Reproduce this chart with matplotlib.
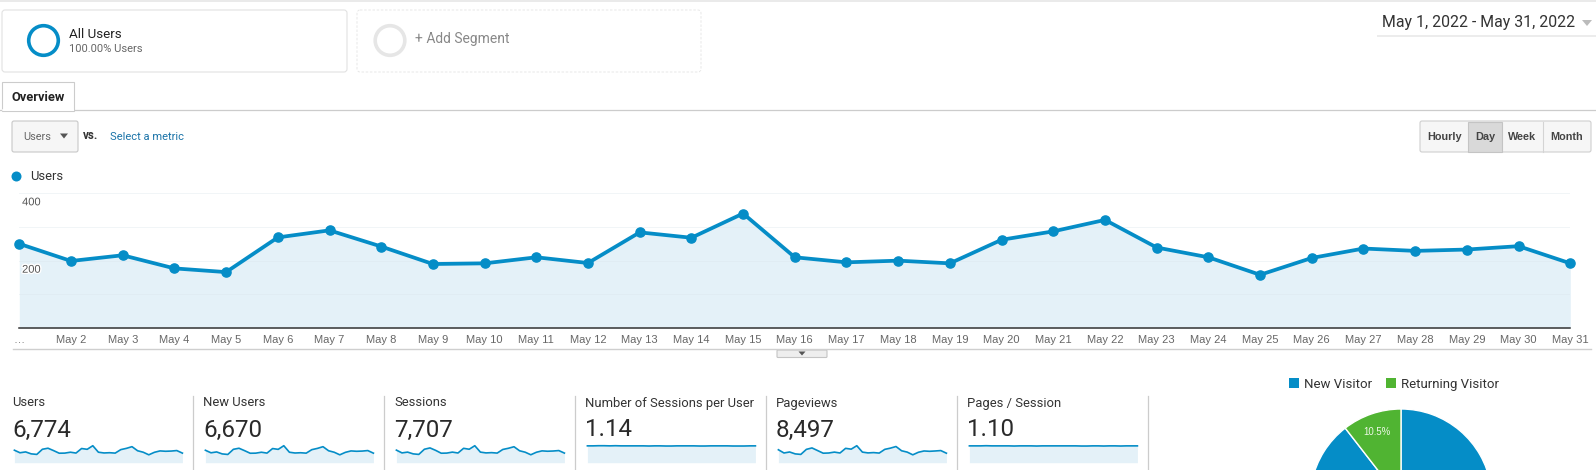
import matplotlib
matplotlib.use("Agg")
import matplotlib.pyplot as plt
import matplotlib.patheffects as pe
from matplotlib.patches import Circle, FancyBboxPatch, Polygon, Rectangle

W, H = 1596, 470
BLUE = "#058dc7"
GREEN = "#50b432"
FILL = "#e4f1f8"

days = ["…"] + ["May %d" % d for d in range(2, 32)]
users = [250, 199, 216, 177, 166, 269, 290, 242, 190, 192, 210, 193, 284, 268, 340,
         210, 195, 200, 192, 262, 287, 321, 239, 210, 158, 208, 236, 229, 233, 243, 192]
new_users = [246, 196, 213, 174, 163, 265, 286, 238, 187, 189, 207, 190, 280, 264, 336,
             207, 192, 197, 189, 258, 283, 317, 236, 207, 156, 205, 233, 226, 230, 240, 189]
sessions = [285, 222, 240, 200, 188, 305, 335, 280, 215, 218, 240, 220, 326, 305, 385,
            240, 222, 228, 218, 300, 327, 362, 270, 238, 180, 237, 268, 260, 265, 275, 218]
per_user = [1.14, 1.14, 1.15, 1.15, 1.14, 1.15, 1.14, 1.14, 1.14, 1.14, 1.14, 1.13, 1.14, 1.14, 1.13,
            1.13, 1.14, 1.14, 1.14, 1.14, 1.13, 1.13, 1.14, 1.14, 1.14, 1.14, 1.13, 1.13, 1.13, 1.14, 1.14]
pageviews = [320, 240, 265, 218, 205, 330, 365, 300, 235, 240, 262, 240, 355, 335, 420,
             262, 242, 250, 238, 330, 360, 400, 295, 262, 195, 258, 290, 282, 290, 300, 235]
per_session = [1.10, 1.10, 1.10, 1.11, 1.10, 1.10, 1.10, 1.10, 1.09, 1.10, 1.10, 1.10, 1.09, 1.10, 1.10,
               1.10, 1.10, 1.10, 1.10, 1.10, 1.09, 1.09, 1.10, 1.10, 1.09, 1.10, 1.10, 1.09, 1.10, 1.10, 1.10]

metric_names = ["Users", "New Users", "Sessions", "Number of Sessions per User", "Pageviews", "Pages / Session"]
metric_values = ["6,774", "6,670", "7,707", "1.14", "8,497", "1.10"]
metric_series = [users, new_users, sessions, per_user, pageviews, per_session]

visitor_names = ["New Visitor", "Returning Visitor"]
visitor_share = [89.5, 10.5]
visitor_labels = ["", "10.5%"]
y_ticks = [0, 100, 200, 300, 400]
y_labeled = [200, 400]
intervals = ["Hourly", "Day", "Week", "Month"]

plt.rcParams["font.family"] = ["Roboto", "DejaVu Sans"]
fig = plt.figure(figsize=(W / 100, H / 100), dpi=100, facecolor="white")


def px_axes(x0, y0, x1, y1):
    return fig.add_axes([x0 / W, 1 - y1 / H, (x1 - x0) / W, (y1 - y0) / H])


# page furniture, drawn in pixel coordinates
bg = fig.add_axes([0, 0, 1, 1])
bg.set_xlim(0, W)
bg.set_ylim(H, 0)
bg.axis("off")


def box(x0, y0, x1, y1, fc="white", ec="#e2e2e2", lw=0.8, ls="-", r=3):
    bg.add_patch(FancyBboxPatch((x0, y0), x1 - x0, y1 - y0, boxstyle="round,pad=0,rounding_size=%d" % r,
                                fc=fc, ec=ec, lw=lw, ls=ls))


def label(x, y, s, size, color="#333333", ha="left", **kw):
    bg.text(x, y, s, fontsize=size, color=color, ha=ha, va="center", **kw)


bg.plot([0, W], [0.5, 0.5], color="#e6e6e6", lw=1.2)

# segments
box(2, 10, 347, 72)
bg.add_patch(Circle((43.5, 40.5), 14.8, fc="none", ec=BLUE, lw=2.6))
label(69, 34.5, "All Users", 9.6, "#222222")
label(69, 48.5, "100.00% Users", 8, "#666666")
box(357, 10, 701, 72, ec="#e4e4e4", lw=0.6, ls=(0, (3, 2)))
bg.add_patch(Circle((390, 40.5), 14.8, fc="none", ec="#e6e6e6", lw=2.6))
label(415, 39, "+ Add Segment", 10, "#888888")

# date picker
label(1382, 23, "May 1, 2022 - May 31, 2022", 11.4, "#333333")
bg.plot([1378, W], [36, 36], color="#ececec", lw=1.4)
bg.add_patch(Polygon([(1582, 20), (1592, 20), (1587, 26)], fc="#bbbbbb", ec="none"))

# tab
bg.plot([0, W], [110, 110], color="#cccccc", lw=0.9)
bg.add_patch(Rectangle((2, 82), 72, 28.5, fc="white", ec="#cccccc", lw=0.8, zorder=3))
bg.plot([2.6, 73.4], [110, 110], color="white", lw=1.2, zorder=4)
label(11, 97.5, "Overview", 9.3, "#222222", fontweight="bold", zorder=5)

# metric selector
box(12, 121, 78, 152, fc="#f6f6f6", ec="#c8c8c8", r=2)
label(23, 136.5, "Users", 7.8, "#666666")
bg.add_patch(Polygon([(60, 133.5), (68, 133.5), (64, 138.5)], fc="#555555", ec="none"))
label(83, 135.5, "vs.", 8.4, "#333333", fontweight="bold")
label(110, 136.5, "Select a metric", 8, "#1a73a8")

# interval buttons
box(1420, 121, 1591, 152, fc="#f6f6f6", ec="#cfcfcf", r=2)
bg.add_patch(Rectangle((1468, 121.5), 34, 30, fc="#d9d9d9", ec="#c4c4c4", lw=0.8))
for x in [1543]:
    bg.plot([x, x], [121.5, 151.5], color="#d4d4d4", lw=0.8)
for x, name in zip([1444, 1485, 1522, 1567], intervals):
    label(x, 136.5, name, 7.8, "#444444", ha="center", fontweight="bold", family=["Liberation Sans"])

# legend of the main chart
bg.add_patch(Circle((16.5, 176.5), 5, fc=BLUE, ec="none"))
label(30, 177, "Users", 9.4, "#333333")

# main chart
ax = px_axes(19.3, 193.3, 1570.3, 328)
ax.set_facecolor("none")
x = list(range(len(users)))
ax.fill_between(x, users, 0, color=FILL, lw=0)
ax.plot(x, users, "-o", color=BLUE, lw=2.7, ms=6.6, clip_on=False, zorder=4)
ax.set_xlim(0, 30)
ax.set_ylim(0, 400)
ax.set_yticks(y_ticks)
ax.set_yticklabels([])
ax.grid(axis="y", color="#dbe6ec", alpha=0.4, lw=0.7)
ax.set_axisbelow(False)
ax.tick_params(length=0)
ax.set_xticks(x)
ax.set_xticklabels(days, fontsize=8, color="#666666", family=["Liberation Sans"])
ax.tick_params(axis="x", pad=5)
for s in ["top", "left", "right"]:
    ax.spines[s].set_visible(False)
ax.spines["bottom"].set_color("#333333")
ax.spines["bottom"].set_linewidth(1.1)
for v in y_labeled:
    ax.annotate(str(v), (0, v), xytext=(2, -6.5), textcoords="offset points", fontsize=8, color="#555555",
                va="center", family=["Liberation Sans"], zorder=5,
                path_effects=[pe.withStroke(linewidth=2, foreground="white")])

# handle below the chart
bg.plot([13, 1591], [349, 349], color="#cfcfcf", lw=1)
box(777, 350, 827, 357.5, fc="#eeeeee", ec="#c4c4c4", r=1)
bg.add_patch(Polygon([(798.5, 351.5), (805.5, 351.5), (802, 355.5)], fc="#555555", ec="none"))

# metric columns with sparklines
for i, (name, value, series) in enumerate(zip(metric_names, metric_values, metric_series)):
    left = 12 + 191 * i
    label(left, 403, name, 9.4, "#333333")
    label(left, 430, value, 17.4, "#2a2a2a")
    bg.plot([left + 180.5] * 2, [396, H], color="#cccccc", lw=0.9)
    sp = px_axes(left + 2.4, 444.7, left + 170.4, 462.7)
    sp.fill_between(range(31), series, 0, color=FILL, lw=0)
    sp.plot(range(31), series, color=BLUE, lw=1.2, clip_on=False)
    sp.set_xlim(0, 30)
    sp.set_ylim(0, max(series) * 1.06)
    sp.axis("off")

# visitor pie
bg.add_patch(Rectangle((1289, 378), 10, 10, fc=BLUE, ec="none"))
label(1304, 384.5, visitor_names[0], 9.5, "#333333")
bg.add_patch(Rectangle((1386, 378), 10, 10, fc=GREEN, ec="none"))
label(1401, 384.5, visitor_names[1], 9.5, "#333333")

pie_ax = px_axes(1310, 409, 1492, 591)
pie_ax.pie(visitor_share, colors=[BLUE, GREEN], startangle=90, counterclock=False,
           wedgeprops={"edgecolor": "white", "linewidth": 1})
pie_ax.set_xlim(-1, 1)
pie_ax.set_ylim(-1, 1)
pie_ax.text(-0.265, 0.75, visitor_labels[1], fontsize=6.9, color="#eef7e8", ha="center", va="center",
            family=["Liberation Sans"])

fig.savefig("out.png", dpi=100)
